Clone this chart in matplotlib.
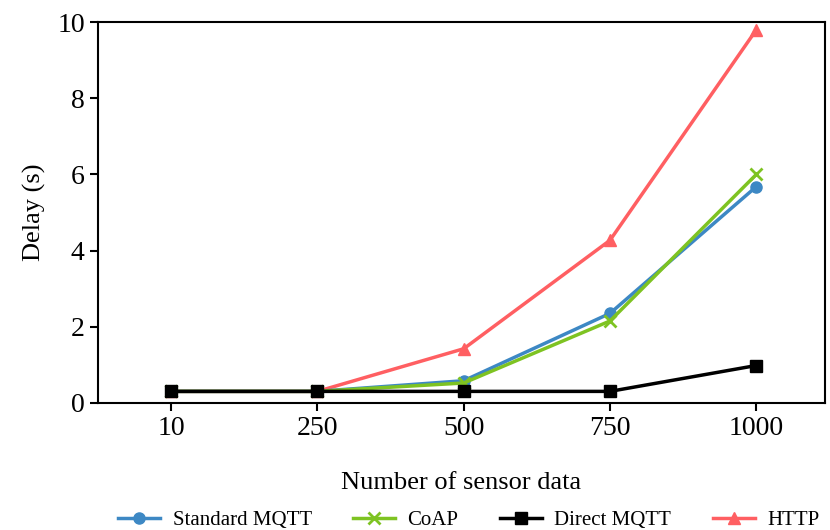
import matplotlib
matplotlib.use("Agg")
import matplotlib.pyplot as plt
import numpy as np

sizes = ["10", "250", "500", "750", "1000"]
standard_mqtt = [0.30, 0.30, 0.58, 2.35, 5.68]
coap = [0.30, 0.30, 0.52, 2.15, 6.00]
direct_mqtt = [0.30, 0.30, 0.30, 0.30, 0.98]
http = [0.30, 0.30, 1.42, 4.27, 9.80]


def main() -> None:
    plt.rcParams["font.family"] = ["Liberation Serif", "DejaVu Serif"]
    fig = plt.figure(figsize=(8.3, 5.3), dpi=100)
    ax = fig.add_axes([0.118, 0.240, 0.876, 0.718])
    x = np.arange(len(sizes))

    # red underneath, black on top, as in the original
    h_http, = ax.plot(x, http, color="#ff5f62", marker="^", markersize=9, lw=2.5, label="HTTP")
    h_std, = ax.plot(x, standard_mqtt, color="#3d88c4", marker="o", markersize=8, lw=2.5, label="Standard MQTT")
    h_coap, = ax.plot(x, coap, color="#7ec322", marker="x", markersize=8, mew=2, lw=2.5, label="CoAP")
    h_dir, = ax.plot(x, direct_mqtt, color="black", marker="s", markersize=8, lw=2.5, label="Direct MQTT")

    ax.set_xlim(-0.5, 4.47)
    ax.set_ylim(0, 10)
    ax.set_xticks(x)
    ax.set_xticklabels(sizes)
    ax.set_yticks([0, 2, 4, 6, 8, 10])
    ax.tick_params(labelsize=20, width=1.5, length=6)
    for s in ax.spines.values():
        s.set_linewidth(1.5)
    ax.set_xlabel("Number of sensor data", fontsize=19, labelpad=22)
    ax.set_ylabel("Delay (s)", fontsize=19, labelpad=8)

    fig.legend(handles=[h_std, h_coap, h_dir, h_http], loc="lower center",
               bbox_to_anchor=(0.565, -0.035), ncol=4, frameon=False,
               fontsize=15, columnspacing=2.0, handlelength=2.0, handletextpad=0.6)

    fig.savefig("out.png", dpi=100)


if __name__ == "__main__":
    main()
